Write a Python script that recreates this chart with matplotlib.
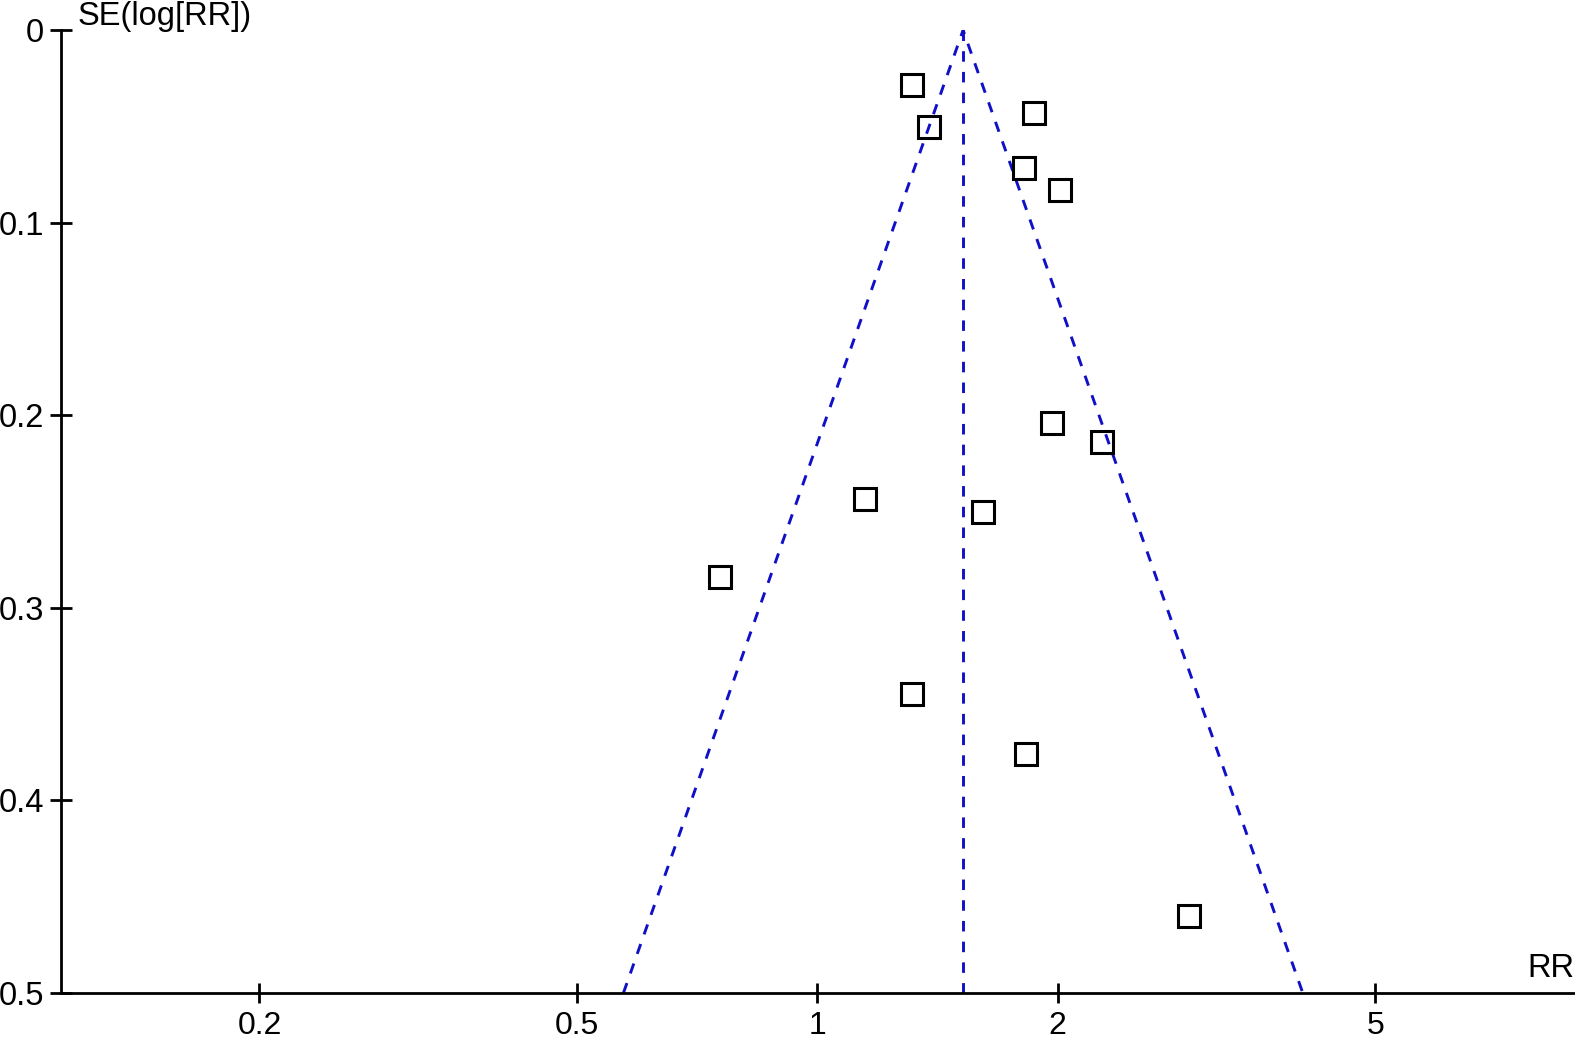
import matplotlib.pyplot as plt
import numpy as np

plt.rcParams['font.family'] = ['Liberation Sans', 'DejaVu Sans']

# study estimates
rr = [1.313, 1.866, 1.380, 1.817, 2.017, 1.966, 2.272, 1.149, 1.614, 0.755, 1.313, 1.828, 2.924]
se = [0.0287, 0.0428, 0.0501, 0.0715, 0.083, 0.204, 0.214, 0.2437, 0.250, 0.284, 0.345, 0.376, 0.460]

pooled_rr = 1.523
se_max = 0.5
x_ticks = [0.2, 0.5, 1, 2, 5]
x_tick_labels = ['0.2', '0.5', '1', '2', '5']
y_ticks = [0, 0.1, 0.2, 0.3, 0.4, 0.5]
y_tick_labels = ['0', '0.1', '0.2', '0.3', '0.4', '0.5']

fig = plt.figure(figsize=(15.75, 10.39), dpi=100)
ax = fig.add_axes([0.0387, 0.0443, 0.9613, 0.9267])

blue = '#1010c8'
dash = (0, (3.6, 3.5))
lo = pooled_rr * np.exp(-1.96 * se_max)
hi = pooled_rr * np.exp(1.96 * se_max)
ax.plot([lo, pooled_rr, hi], [se_max, 0, se_max], color=blue, lw=2.1, linestyle=dash)
ax.plot([pooled_rr, pooled_rr], [0, se_max], color=blue, lw=2.1, linestyle=dash)

ax.plot(rr, se, linestyle='none', marker='s', markersize=15.5,
        markerfacecolor='none', markeredgecolor='black', markeredgewidth=2.2)

ax.set_xscale('log')
ax.set_xlim(0.1128, 8.9)
ax.set_ylim(0.5, 0)
ax.set_xticks(x_ticks)
ax.set_xticklabels(x_tick_labels)
ax.minorticks_off()
ax.set_yticks(y_ticks)
ax.set_yticklabels(y_tick_labels)

for s in ['top', 'right']:
    ax.spines[s].set_visible(False)
for s in ['left', 'bottom']:
    ax.spines[s].set_linewidth(2.0)

ax.tick_params(axis='x', direction='inout', length=15, width=2.0, labelsize=23, pad=5.5)
ax.tick_params(axis='y', direction='inout', length=16, width=2.0, labelsize=23.5, pad=4)

fig.text(0.0495, 0.984, 'SE(log[RR])', fontsize=23.5, ha='left', va='center')
fig.text(0.9995, 0.068, 'RR', fontsize=23.5, ha='right', va='center')

fig.savefig('out.png', dpi=100)
